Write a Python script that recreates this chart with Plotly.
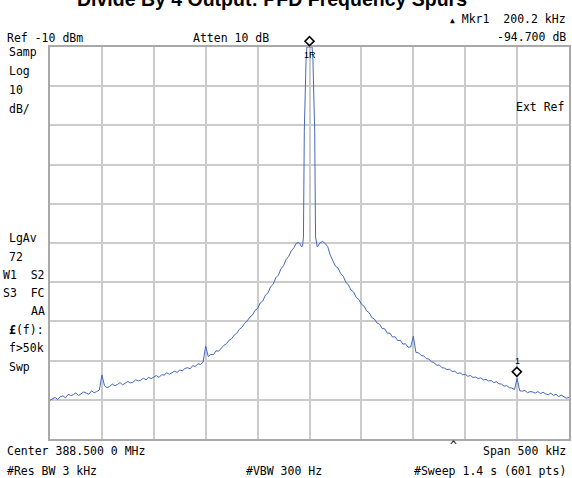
import numpy as np
import plotly.graph_objects as go

# ---- data (frequency offset from 388.5 MHz centre, kHz ; level dBm) ----
left_freq = np.arange(-250.0, -7.5 + 0.01, 2.5)
left_level = [
    -100.1, -99.8, -99.4, -99.9, -99.2, -99.0, -99.5, -98.6, -98.9, -98.7,
    -98.2, -98.9, -98.4, -98.0, -98.3, -98.6, -97.7, -98.2, -97.9, -97.5,
    -93.7, -96.4, -96.9, -96.6, -96.0, -96.4, -96.1, -95.6, -96.2, -95.8,
    -95.3, -95.7, -95.5, -94.9, -95.2, -95.0, -94.5, -94.9, -94.3, -94.6,
    -94.2, -93.8, -94.3, -93.6, -93.7, -93.1, -93.5, -93.2, -92.7, -93.0,
    -92.4, -92.6, -92.0, -91.8, -92.1, -91.3, -91.5, -90.8, -91.0, -90.4,
    -86.3, -89.0, -88.4, -88.5, -87.5, -87.6, -86.7, -86.1, -85.7, -84.8,
    -84.4, -83.5, -83.0, -82.0, -81.5, -80.5, -79.9, -78.9, -78.4, -77.2,
    -76.7, -75.3, -74.8, -73.3, -72.7, -71.2, -70.5, -68.9, -68.2, -66.6,
    -65.8, -64.2, -63.4, -62.0, -61.2, -60.0, -59.9, -61.0,
]
carrier_freq = [-6.67, -5.83, -5.0, -4.17, -3.33, -2.5, -1.67, -0.83, 0.0,
                0.83, 1.67, 2.5, 3.33, 4.17, 5.0, 5.83, 6.67]
carrier_level = [-60.6, -58.5, -31.5, -20.5, -13.5, -6.5, -2.0, -0.3, 0.2,
                 -0.3, -2.0, -6.5, -13.5, -20.5, -31.5, -58.5, -60.6]
right_freq = np.arange(7.5, 250.0 + 0.01, 2.5)
right_level = [
    -61.0, -60.0, -59.6, -60.1, -60.9, -63.1, -64.4, -65.9, -66.4, -67.8,
    -68.5, -70.0, -70.7, -72.0, -72.5, -73.9, -74.4, -75.6, -76.1, -77.3,
    -77.8, -79.0, -79.4, -80.4, -80.7, -81.8, -81.9, -83.0, -83.0, -84.0,
    -83.9, -84.9, -84.8, -85.8, -85.7, -86.6, -86.5, -83.8, -87.9, -88.0,
    -88.7, -88.8, -89.5, -89.6, -90.3, -90.5, -91.2, -91.1, -91.8, -91.9,
    -92.3, -92.2, -92.8, -92.7, -93.3, -93.1, -93.6, -93.5, -94.0, -93.8,
    -94.3, -94.2, -94.6, -94.4, -94.9, -94.8, -95.2, -95.1, -95.6, -95.4,
    -95.9, -96.0, -96.5, -96.4, -96.9, -97.0, -97.4, -94.5, -97.7, -97.8,
    -97.6, -98.2, -97.9, -98.0, -98.3, -97.9, -98.4, -98.1, -98.5, -98.7,
    -98.3, -98.9, -98.6, -99.2, -98.8, -99.3, -99.6, -99.4,
]
ref_level = -10.0
db_per_div = 10.0
span_khz = 500.0
marker_freq = [0.0, 200.0]
marker_labels = ["1R", "1"]

freq = np.concatenate([left_freq, carrier_freq, right_freq])
level = np.concatenate([left_level, carrier_level, right_level])
shown = np.minimum(level, ref_level)          # analyser clips at top graticule
y_min, y_max = ref_level - 10 * db_per_div, ref_level

# ---- geometry ----
W, H = 572, 478
L, R, T, B = 50, 1, 46.5, 39
PW, PH = W - L - R, H - T - B
MONO = "DejaVu Sans Mono"
FS = 11.5

def ann(text, x, y, anchor="left", size=FS, family=MONO, **kw):
    return dict(text=text, xref="paper", yref="paper",
                x=(x - L) / PW, y=(H - B - y) / PH,
                xanchor=anchor, yanchor="middle", showarrow=False,
                font=dict(family=family, size=size, color="black"), **kw)

NB = "\u00a0"
fig = go.Figure()
fig.add_trace(go.Scatter(x=freq, y=shown, mode="lines",
                         line=dict(color="#4468bd", width=1), hoverinfo="skip"))

annotations = [
    ann("<b>Divide By 4 Output: PFD Frequency Spurs</b>", 273, -1.5, "center", 19.5,
        "Liberation Sans"),
    ann("<span style='font-size:8px'>▲</span> Mkr1" + NB * 2 + "200.2 kHz", 570, 18, "right"),
    ann("Ref -10 dBm", 5, 37),
    ann("Atten 10 dB", 192, 37),
    ann("-94.700 dB", 570, 36, "right"),
    ann("Samp", 7, 52), ann("Log", 7, 71), ann("10", 7, 90), ann("dB/", 7, 109),
    ann("Ext Ref", 568, 107, "right"),
    ann("LgAv", 7, 238), ann("72", 7, 257),
    ann("W1" + NB * 2 + "S2", 47, 275, "right"),
    ann("S3" + NB * 2 + "FC", 47, 293, "right"),
    ann("AA", 47, 311, "right"),
    ann("<b>£</b>(f):", 7, 330), ann("f>50k", 7, 348), ann("Swp", 7, 367),
    ann("Center 388.500 0 MHz", 5, 451),
    ann("^", 455, 446, "center"),
    ann("Span 500 kHz", 570, 451, "right"),
    ann("#Res BW 3 kHz", 5, 471),
    ann("#VBW 300 Hz", 245, 471),
    ann("#Sweep 1.4 s (601 pts)", 570, 471, "right"),
]

# markers: diamond (rotated bordered box) + label, positioned from the trace level
for f, lab, lab_shift in zip(marker_freq, marker_labels, [-7.5, 17.5]):
    lv = min(float(np.interp(f, freq, level)), ref_level)
    yp = (lv - y_min) / (y_max - y_min)
    annotations.append(dict(text=NB, x=f, y=yp, xref="x", yref="paper", yshift=6.5,
                            xanchor="center", yanchor="middle", showarrow=False,
                            width=5, height=5, borderpad=0, borderwidth=1.6,
                            bordercolor="black", bgcolor="white", textangle=45,
                            font=dict(size=1, color="white")))
    annotations.append(dict(text=lab, x=f, y=yp, xref="x", yref="paper", yshift=lab_shift,
                            xanchor="center", yanchor="middle", showarrow=False,
                            font=dict(family="Liberation Sans", size=9, color="black")))

fig.update_layout(
    width=W, height=H, margin=dict(l=L, r=R, t=T, b=B),
    paper_bgcolor="white", plot_bgcolor="white", showlegend=False,
    annotations=annotations,
    xaxis=dict(range=[-span_khz / 2, span_khz / 2], dtick=span_khz / 10, tick0=0,
               showticklabels=False, ticks="", showgrid=True, gridcolor="#cbcbcb",
               gridwidth=1.5, zeroline=False, showline=True, mirror=True,
               linecolor="#a9a9a9", linewidth=2, fixedrange=True),
    yaxis=dict(range=[y_min, y_max], dtick=db_per_div,
               tick0=ref_level, showticklabels=False, ticks="", showgrid=True,
               gridcolor="#cbcbcb", gridwidth=1.5, zeroline=False, showline=True,
               mirror=True, linecolor="#a9a9a9", linewidth=2, fixedrange=True),
)
fig.write_html("out.html", config={"displayModeBar": False},
               post_script="document.body.style.margin='0';document.body.style.overflow='hidden';")
